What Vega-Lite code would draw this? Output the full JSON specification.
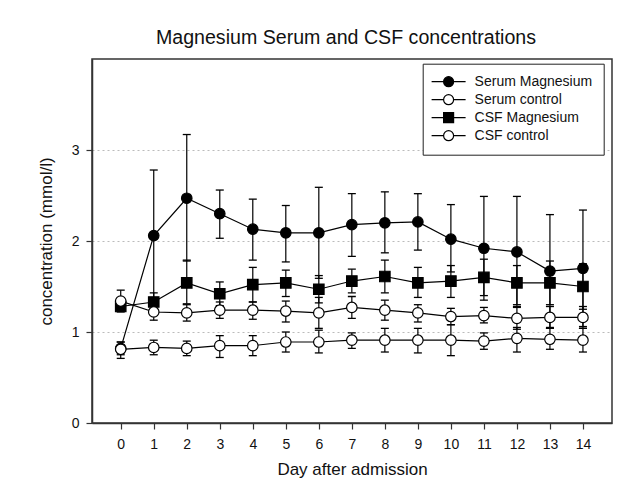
{
  "$schema": "https://vega.github.io/schema/vega-lite/v6.json",
  "width": 520,
  "height": 364,
  "autosize": {"type": "none"},
  "padding": {"left": 92, "top": 59, "right": 23, "bottom": 60},
  "background": "white",
  "title": {
    "text": "Magnesium Serum and CSF concentrations",
    "fontSize": 19.6,
    "font": "Liberation Sans",
    "fontWeight": "normal",
    "color": "#111",
    "offset": 10,
    "anchor": "middle",
    "dx": -6
  },
  "data": {
    "values": [
      {"day": 0, "series": "Serum Magnesium", "mean": 0.82, "lo": 0.75, "hi": 0.89},
      {"day": 1, "series": "Serum Magnesium", "mean": 2.06, "lo": 1.34, "hi": 2.78},
      {"day": 2, "series": "Serum Magnesium", "mean": 2.47, "lo": 1.78, "hi": 3.17},
      {"day": 3, "series": "Serum Magnesium", "mean": 2.30, "lo": 2.03, "hi": 2.56},
      {"day": 4, "series": "Serum Magnesium", "mean": 2.13, "lo": 1.79, "hi": 2.46},
      {"day": 5, "series": "Serum Magnesium", "mean": 2.09, "lo": 1.77, "hi": 2.39},
      {"day": 6, "series": "Serum Magnesium", "mean": 2.09, "lo": 1.59, "hi": 2.59},
      {"day": 7, "series": "Serum Magnesium", "mean": 2.18, "lo": 1.83, "hi": 2.52},
      {"day": 8, "series": "Serum Magnesium", "mean": 2.20, "lo": 1.87, "hi": 2.54},
      {"day": 9, "series": "Serum Magnesium", "mean": 2.21, "lo": 1.90, "hi": 2.52},
      {"day": 10, "series": "Serum Magnesium", "mean": 2.02, "lo": 1.66, "hi": 2.40},
      {"day": 11, "series": "Serum Magnesium", "mean": 1.92, "lo": 1.35, "hi": 2.49},
      {"day": 12, "series": "Serum Magnesium", "mean": 1.88, "lo": 1.28, "hi": 2.49},
      {"day": 13, "series": "Serum Magnesium", "mean": 1.67, "lo": 1.05, "hi": 2.29},
      {"day": 14, "series": "Serum Magnesium", "mean": 1.70, "lo": 1.06, "hi": 2.34},
      {"day": 0, "series": "CSF Magnesium", "mean": 1.28, "lo": 1.23, "hi": 1.33},
      {"day": 1, "series": "CSF Magnesium", "mean": 1.33, "lo": 1.24, "hi": 1.43},
      {"day": 2, "series": "CSF Magnesium", "mean": 1.54, "lo": 1.31, "hi": 1.79},
      {"day": 3, "series": "CSF Magnesium", "mean": 1.42, "lo": 1.29, "hi": 1.55},
      {"day": 4, "series": "CSF Magnesium", "mean": 1.52, "lo": 1.33, "hi": 1.71},
      {"day": 5, "series": "CSF Magnesium", "mean": 1.54, "lo": 1.39, "hi": 1.68},
      {"day": 6, "series": "CSF Magnesium", "mean": 1.47, "lo": 1.32, "hi": 1.62},
      {"day": 7, "series": "CSF Magnesium", "mean": 1.56, "lo": 1.43, "hi": 1.69},
      {"day": 8, "series": "CSF Magnesium", "mean": 1.61, "lo": 1.43, "hi": 1.79},
      {"day": 9, "series": "CSF Magnesium", "mean": 1.54, "lo": 1.38, "hi": 1.71},
      {"day": 10, "series": "CSF Magnesium", "mean": 1.56, "lo": 1.38, "hi": 1.73},
      {"day": 11, "series": "CSF Magnesium", "mean": 1.60, "lo": 1.40, "hi": 1.80},
      {"day": 12, "series": "CSF Magnesium", "mean": 1.54, "lo": 1.30, "hi": 1.73},
      {"day": 13, "series": "CSF Magnesium", "mean": 1.54, "lo": 1.30, "hi": 1.78},
      {"day": 14, "series": "CSF Magnesium", "mean": 1.50, "lo": 1.25, "hi": 1.75},
      {"day": 0, "series": "Serum control", "mean": 0.81, "lo": 0.71, "hi": 0.89},
      {"day": 1, "series": "Serum control", "mean": 0.83, "lo": 0.75, "hi": 0.91},
      {"day": 2, "series": "Serum control", "mean": 0.82, "lo": 0.74, "hi": 0.90},
      {"day": 3, "series": "Serum control", "mean": 0.85, "lo": 0.72, "hi": 0.96},
      {"day": 4, "series": "Serum control", "mean": 0.85, "lo": 0.74, "hi": 0.96},
      {"day": 5, "series": "Serum control", "mean": 0.89, "lo": 0.78, "hi": 1.00},
      {"day": 6, "series": "Serum control", "mean": 0.89, "lo": 0.77, "hi": 1.02},
      {"day": 7, "series": "Serum control", "mean": 0.91, "lo": 0.82, "hi": 0.99},
      {"day": 8, "series": "Serum control", "mean": 0.91, "lo": 0.78, "hi": 1.04},
      {"day": 9, "series": "Serum control", "mean": 0.91, "lo": 0.77, "hi": 1.04},
      {"day": 10, "series": "Serum control", "mean": 0.91, "lo": 0.74, "hi": 1.08},
      {"day": 11, "series": "Serum control", "mean": 0.90, "lo": 0.81, "hi": 0.99},
      {"day": 12, "series": "Serum control", "mean": 0.93, "lo": 0.78, "hi": 1.05},
      {"day": 13, "series": "Serum control", "mean": 0.92, "lo": 0.81, "hi": 1.04},
      {"day": 14, "series": "Serum control", "mean": 0.91, "lo": 0.78, "hi": 1.04},
      {"day": 0, "series": "CSF control", "mean": 1.34, "lo": 1.22, "hi": 1.46},
      {"day": 1, "series": "CSF control", "mean": 1.22, "lo": 1.13, "hi": 1.31},
      {"day": 2, "series": "CSF control", "mean": 1.21, "lo": 1.12, "hi": 1.30},
      {"day": 3, "series": "CSF control", "mean": 1.24, "lo": 1.15, "hi": 1.33},
      {"day": 4, "series": "CSF control", "mean": 1.24, "lo": 1.14, "hi": 1.33},
      {"day": 5, "series": "CSF control", "mean": 1.23, "lo": 1.11, "hi": 1.34},
      {"day": 6, "series": "CSF control", "mean": 1.21, "lo": 1.04, "hi": 1.38},
      {"day": 7, "series": "CSF control", "mean": 1.27, "lo": 1.15, "hi": 1.39},
      {"day": 8, "series": "CSF control", "mean": 1.24, "lo": 1.13, "hi": 1.35},
      {"day": 9, "series": "CSF control", "mean": 1.21, "lo": 1.11, "hi": 1.30},
      {"day": 10, "series": "CSF control", "mean": 1.17, "lo": 1.08, "hi": 1.26},
      {"day": 11, "series": "CSF control", "mean": 1.18, "lo": 1.10, "hi": 1.27},
      {"day": 12, "series": "CSF control", "mean": 1.15, "lo": 1.03, "hi": 1.27},
      {"day": 13, "series": "CSF control", "mean": 1.16, "lo": 1.04, "hi": 1.28},
      {"day": 14, "series": "CSF control", "mean": 1.16, "lo": 1.04, "hi": 1.28}
    ]
  },
  "encoding": {
    "x": {
      "field": "day",
      "type": "quantitative",
      "title": "Day after admission",
      "scale": {"domain": [-0.87, 14.88], "nice": false, "zero": false},
      "axis": {
        "values": [0, 1, 2, 3, 4, 5, 6, 7, 8, 9, 10, 11, 12, 13, 14],
        "grid": false,
        "tickSize": 6,
        "labelPadding": 8,
        "titlePadding": 10
      }
    }
  },
  "layer": [
    {
      "mark": {"type": "rule", "color": "black", "strokeWidth": 1.2},
      "encoding": {
        "y": {"field": "lo", "type": "quantitative", "title": "concentration (mmol/l)", "scale": {"domain": [0, 4], "nice": false},
          "axis": {"values": [0, 1, 2, 3], "format": "d", "grid": true, "gridDash": [2, 3], "gridColor": "#bbbbbb", "tickSize": 6, "labelPadding": 7, "titlePadding": 16}},
        "y2": {"field": "hi"}
      }
    },
    {
      "mark": {"type": "tick", "orient": "horizontal", "color": "black", "size": 8, "thickness": 1.3, "opacity": 1},
      "encoding": {
        "y": {"field": "lo", "type": "quantitative", "title": "concentration (mmol/l)", "scale": {"domain": [0, 4], "nice": false},
          "axis": {"values": [0, 1, 2, 3], "format": "d", "grid": true, "gridDash": [2, 3], "gridColor": "#bbbbbb", "tickSize": 6, "labelPadding": 7, "titlePadding": 16}}
      }
    },
    {
      "mark": {"type": "tick", "orient": "horizontal", "color": "black", "size": 8, "thickness": 1.3, "opacity": 1},
      "encoding": {
        "y": {"field": "hi", "type": "quantitative", "title": "concentration (mmol/l)", "scale": {"domain": [0, 4], "nice": false},
          "axis": {"values": [0, 1, 2, 3], "format": "d", "grid": true, "gridDash": [2, 3], "gridColor": "#bbbbbb", "tickSize": 6, "labelPadding": 7, "titlePadding": 16}}
      }
    },
    {
      "mark": {"type": "line", "color": "black", "strokeWidth": 1.2},
      "encoding": {
        "y": {"field": "mean", "type": "quantitative", "title": "concentration (mmol/l)", "scale": {"domain": [0, 4], "nice": false},
          "axis": {"values": [0, 1, 2, 3], "format": "d", "grid": true, "gridDash": [2, 3], "gridColor": "#bbbbbb", "tickSize": 6, "labelPadding": 7, "titlePadding": 16}},
        "detail": {"field": "series"}
      }
    },
    {
      "mark": {"type": "point", "filled": true, "stroke": "black", "strokeWidth": 1.2, "size": 110, "opacity": 1, "fillOpacity": 1, "strokeOpacity": 1},
      "encoding": {
        "y": {"field": "mean", "type": "quantitative", "title": "concentration (mmol/l)", "scale": {"domain": [0, 4], "nice": false},
          "axis": {"values": [0, 1, 2, 3], "format": "d", "grid": true, "gridDash": [2, 3], "gridColor": "#bbbbbb", "tickSize": 6, "labelPadding": 7, "titlePadding": 16}},
        "fill": {
          "field": "series",
          "type": "nominal",
          "scale": {"domain": ["Serum Magnesium", "Serum control", "CSF Magnesium", "CSF control"], "range": ["black", "white", "black", "white"]},
          "legend": null
        },
        "shape": {
          "field": "series",
          "type": "nominal",
          "scale": {"domain": ["Serum Magnesium", "Serum control", "CSF Magnesium", "CSF control"], "range": ["circle", "circle", "square", "circle"]},
          "legend": null
        }
      }
    },
    {
      "transform": [{"filter": "datum.day < 0"}],
      "mark": {"type": "point", "filled": true, "stroke": "black", "strokeWidth": 1.2, "size": 100, "opacity": 1, "fillOpacity": 1, "strokeOpacity": 1},
      "encoding": {
        "y": {"field": "mean", "type": "quantitative", "title": "concentration (mmol/l)", "scale": {"domain": [0, 4], "nice": false},
          "axis": {"values": [0, 1, 2, 3], "format": "d", "grid": true, "gridDash": [2, 3], "gridColor": "#bbbbbb", "tickSize": 6, "labelPadding": 7, "titlePadding": 16}},
        "fill": {
          "field": "series",
          "type": "nominal",
          "scale": {"domain": ["Serum Magnesium", "Serum control", "CSF Magnesium", "CSF control"], "range": ["black", "white", "black", "white"]},
          "legend": {
            "title": null,
            "orient": "none",
            "legendX": 330.7,
            "legendY": 4.7,
            "direction": "vertical",
            "padding": 11,
            "strokeColor": "#222",
            "fillColor": "white",
            "symbolSize": 100,
            "symbolOffset": 7.9,
            "labelOffset": 19,
            "rowPadding": 2,
            "labelFont": "Liberation Sans",
            "labelFontSize": 14,
            "labelColor": "#111",
            "labelLimit": 0,
            "symbolStrokeWidth": 1.2
          }
        },
        "shape": {
          "field": "series",
          "type": "nominal",
          "scale": {"domain": ["Serum Magnesium", "Serum control", "CSF Magnesium", "CSF control"],
            "range": ["M-3.4,0H-1M1,0H3.4M1,0A1,1 0 1,1 -1,0A1,1 0 1,1 1,0Z", "M-3.4,0H-1M1,0H3.4M1,0A1,1 0 1,1 -1,0A1,1 0 1,1 1,0Z", "M-3.4,0H-1M1,0H3.4M-1,-1H1V1H-1Z", "M-3.4,0H-1M1,0H3.4M1,0A1,1 0 1,1 -1,0A1,1 0 1,1 1,0Z"]},
          "legend": {
            "title": null,
            "orient": "none",
            "legendX": 330.7,
            "legendY": 4.7,
            "direction": "vertical",
            "padding": 11,
            "strokeColor": "#222",
            "fillColor": "white",
            "symbolSize": 100,
            "symbolOffset": 7.9,
            "labelOffset": 19,
            "rowPadding": 2,
            "labelFont": "Liberation Sans",
            "labelFontSize": 14,
            "labelColor": "#111",
            "labelLimit": 0,
            "symbolStrokeWidth": 1.2
          }
        }
      }
    }
  ],
  "resolve": {"scale": {"shape": "independent", "fill": "independent"}},
  "config": {
    "view": {"stroke": "#333", "strokeWidth": 1.5},
    "axis": {
      "labelFont": "Liberation Sans",
      "labelFontSize": 14,
      "labelColor": "#111",
      "titleFont": "Liberation Sans",
      "titleFontSize": 17,
      "titleFontWeight": "normal",
      "titleColor": "#111",
      "domainColor": "#333",
      "domainWidth": 1.5,
      "tickColor": "#333",
      "tickWidth": 1.2
    }
  }
}
